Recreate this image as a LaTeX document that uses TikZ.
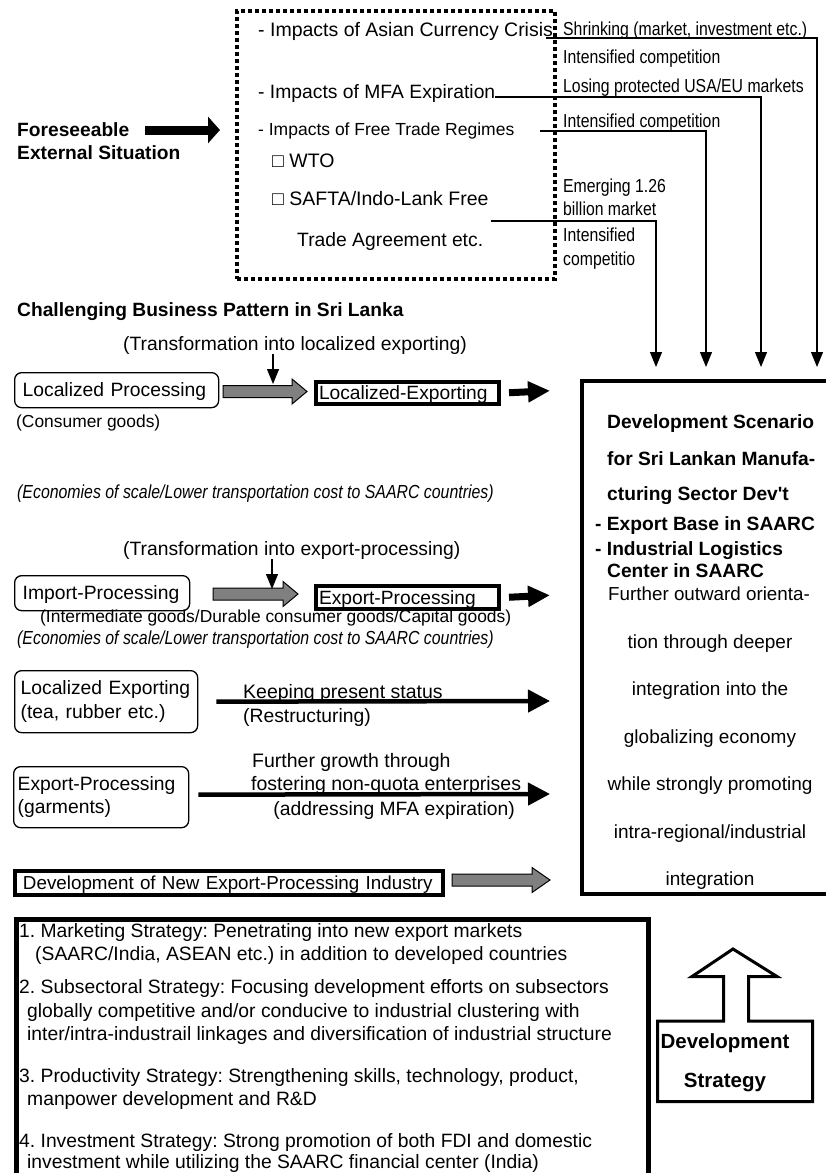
\documentclass[tikz,border=0pt]{standalone}
\usepackage{fontspec}
\setmainfont{Liberation Sans}[Ligatures=TeXOff]
\newfontfamily\narrowfont[FakeStretch=0.84,Ligatures=TeXOff]{Liberation Sans}
\usetikzlibrary{arrows.meta}
\frenchspacing

\tikzset{
  lbl/.style={inner sep=0pt, anchor=base west, font=\fontsize{19.3}{23}\selectfont},
  sml/.style={lbl, font=\fontsize{17.4}{21}\selectfont},
  nar/.style={lbl, font=\narrowfont\fontsize{18.8}{22}\selectfont},
  nit/.style={lbl, font=\narrowfont\itshape\fontsize{18.9}{22}\selectfont},
  bld/.style={lbl, font=\bfseries\fontsize{19.2}{23}\selectfont},
  ctr/.style={inner sep=0pt, anchor=base, font=\fontsize{19}{23}\selectfont},
  dotbox/.style={draw, line width=4pt, dash pattern=on 4pt off 3pt, anchor=north west, inner sep=0pt},
  rbox/.style={draw, rounded corners=7pt, line width=1.3pt, anchor=north west, align=left,
    inner ysep=0pt, inner xsep=8pt, font=\fontsize{19.3}{24}\selectfont},
  tbox/.style={draw, line width=4pt, anchor=north west, align=left, inner ysep=0pt,
    inner xsep=3pt, text height=13.5pt, text depth=0pt, font=\fontsize{19.2}{23}\selectfont},
  bigbox/.style={draw, anchor=north west, inner sep=0pt},
  conn/.style={line width=1.2pt, -{Triangle[length=15pt,width=12pt]}},
  fat/.style={line width=7pt, -{Triangle[length=22pt,width=20pt]}},
  lng/.style={line width=4.5pt, -{Triangle[length=22pt,width=22pt]}},
  grayarr/.style={draw, line width=1pt, fill=black!50}
}

% gray block arrow: start (x,y), shaft length, head length
\newcommand{\blockarrow}[3]{%
  \draw[grayarr] (#1) ++(0,-6) -- ++(#2,0) -- ++(0,-6.5) -- ++(#3,12.5)
    -- ++(-#3,12.5) -- ++(0,-6.5) -- ++(-#2,0) -- cycle;}

\begin{document}
\begin{tikzpicture}[x=1pt,y=-1pt]
\useasboundingbox (0,0) rectangle (826,1173);

% foreseeable external situation
\node[dotbox, minimum width=318pt, minimum height=268pt] (ext) at (235,9) {};
\node[lbl, font=\fontsize{19.5}{23}\selectfont] (asian) at (258,36) {- Impacts of Asian Currency Crisis};
\node[lbl] (mfa) at (258,98) {- Impacts of MFA Expiration};
\node[lbl, font=\fontsize{17.5}{21}\selectfont] (free) at (258,135) {- Impacts of Free Trade Regimes};
\node[lbl, font=\fontsize{19.5}{23}\selectfont] (wto) at (272,167) {□ WTO};
\node[lbl, font=\fontsize{19.5}{23}\selectfont] (saf) at (272,205) {□ SAFTA/Indo-Lank Free};
\node[lbl] (tra) at (297,246) {Trade Agreement etc.};

\node[bld] (fore) at (17,136) {Foreseeable};
\node[bld] (fore2) at (17,159) {External Situation};
\draw[line width=9pt, -{Triangle[length=12pt,width=26pt]}] (145,130) -- ([xshift=-15pt]ext.west |- 0,130);

% impacts
\node[nar] (r1) at (563,35) {Shrinking (market, investment etc.)};
\node[nar] (r2) at (563,63) {Intensified competition};
\node[nar] (r3) at (563,92) {Losing protected USA/EU markets};
\node[nar] (r4) at (563,127) {Intensified competition};
\node[nar] (r5) at (563,192) {Emerging 1.26};
\node[nar] (r6) at (563,215) {billion market};
\node[nar] (r7) at (563,241) {Intensified};
\node[nar] (r8) at (563,265) {competitio};

\coordinate (d1) at (656,367);
\coordinate (d2) at (706,367);
\coordinate (d3) at (761,367);
\coordinate (d4) at (817,367);
\draw[conn] ([shift={(-7,2)}]asian.base east) -| (d4);
\draw[conn] ([shift={(0,-1)}]mfa.base east) -| (d3);
\draw[conn] ([shift={(25,-4)}]free.base east) -| (d2);
\draw[conn] ([shift={(2,16)}]saf.base east) -| (d1);

% business pattern
\node[bld] (chal) at (17,316) {Challenging Business Pattern in Sri Lanka};

\node[lbl] (tr1) at (123,350) {(Transformation into localized exporting)};
\node[rbox, text width=188pt, minimum height=35pt, text height=13.5pt, text depth=0pt] (lp) at (14,372) {Localized Processing};
\node[sml] (cons) at (16,427) {(Consumer goods)};
\blockarrow{223,391.5}{69}{15}
\coordinate (g1) at (273,384);
\draw[conn] (g1 |- tr1.south) -- (g1);
\node[tbox, text width=177pt, minimum height=22.5pt] (lexp) at (314,379.5) {Localized-Exporting};
\coordinate (e1) at (550,390.75);
\draw[fat] ([xshift=8pt]lexp.east) -- (e1);

\node[nit] (eco1) at (17,498) {(Economies of scale/Lower transportation cost to SAARC countries)};

\node[lbl] (tr2) at (123,555) {(Transformation into export-processing)};
\node[rbox, text width=159pt, minimum height=35pt, text height=13.5pt, text depth=0pt] (ip) at (14,575) {Import-Processing};
\blockarrow{213,594}{70}{15}
\coordinate (g2) at (272,589);
\draw[conn] (g2 |- tr2.south) -- (g2);
\node[tbox, text width=177pt, minimum height=23.5pt] (ep) at (314,583.5) {Export-Processing};
\coordinate (e2) at (550,595.25);
\draw[fat] ([xshift=8pt]ep.east) -- (e2);
\node[sml] (inter) at (40,622) {(Intermediate goods/Durable consumer goods/Capital goods)};
\node[nit] (eco2) at (17,644) {(Economies of scale/Lower transportation cost to SAARC countries)};

\node[rbox, text width=171pt, inner xsep=6pt, minimum height=62pt] (le) at (14,670) {Localized Exporting\\(tea, rubber etc.)};
\node[lbl, font=\fontsize{19.5}{23}\selectfont] (keep) at (243,698) {Keeping present status};
\node[lbl] (restr) at (243,722) {(Restructuring)};
\coordinate (e3) at (550,701);
\draw[lng] ([xshift=18pt]le.east) -- (e3);

\node[rbox, text width=167pt, minimum height=61pt, inner xsep=4pt, font=\fontsize{19.3}{23}\selectfont] (gp) at (13,766) {Export-Processing\\(garments)};
\node[lbl, font=\fontsize{19.5}{23}\selectfont] (fur) at (252,767) {Further growth through};
\node[lbl, font=\fontsize{19.5}{23}\selectfont] (fos) at (251,790) {fostering non-quota enterprises};
\node[lbl, anchor=base east] (addr) at (515,815) {(addressing MFA expiration)};
\coordinate (e4) at (550,794);
\draw[lng] ([shift={(9,-2.5)}]gp.east) -- (e4);

\node[tbox, text width=412pt, minimum height=24pt, inner xsep=8pt, font=\fontsize{18.8}{23}\selectfont] (newx) at (13,869) {\mbox{Development of New Export-Processing Industry}};
\blockarrow{452,880}{80}{18}

% development scenario
\node[bigbox, line width=3.5pt, minimum width=248pt, minimum height=513pt] (scen) at (580,379) {};
\node[bld] (sc1) at (607,428) {Development Scenario};
\node[bld] (sc2) at (607,465) {for Sri Lankan Manufa-};
\node[bld] (sc3) at (607,500) {cturing Sector Dev't};
\node[bld] (sc4) at (595,530) {- Export Base in SAARC};
\node[bld] (sc5) at (595,555) {- Industrial Logistics};
\node[bld] (sc6) at (607,577) {Center in SAARC};
\node[lbl, font=\fontsize{18.8}{23}\selectfont] (sc7) at (608,600) {Further outward orienta-};
\node[ctr] (sc8) at (710,648) {tion through deeper};
\node[ctr] (sc9) at (710,695) {integration into the};
\node[ctr] (sc10) at (710,743) {globalizing economy};
\node[ctr] (sc11) at (710,790) {while strongly promoting};
\node[ctr] (sc12) at (710,838) {intra-regional/industrial};
\node[ctr] (sc13) at (710,885) {integration};

% development strategy
\node[bigbox, line width=4.5pt, minimum width=632pt, minimum height=270pt] (strat) at (14,917) {};
\node[lbl] (m1) at (19,937) {1. Marketing Strategy: Penetrating into new export markets};
\node[lbl] (m2) at (35,960) {(SAARC/India, ASEAN etc.) in addition to developed countries};
\node[lbl] (m3) at (19,993) {2. Subsectoral Strategy: Focusing development efforts on subsectors};
\node[lbl] (m4) at (27,1017) {globally competitive and/or conducive to industrial clustering with};
\node[lbl] (m5) at (27,1040) {inter/intra-industrail linkages and diversification of industrial structure};
\node[lbl] (m6) at (19,1082) {3. Productivity Strategy: Strengthening skills, technology, product,};
\node[lbl] (m7) at (27,1105) {manpower development and R\&D};
\node[lbl] (m8) at (19,1147) {4. Investment Strategy: Strong promotion of both FDI and domestic};
\node[lbl] (m9) at (27,1168) {investment while utilizing the SAARC financial center (India)};

\draw[line width=3pt, line join=miter] (692,976.5) -- (733,949) -- (777,976.5) -- (748.5,976.5)
  -- (748.5,1021) -- (812.5,1021) -- (812.5,1101.5) -- (657.5,1101.5) -- (657.5,1021)
  -- (723.5,1021) -- (723.5,976.5) -- cycle;
\node[inner sep=0pt, anchor=base, font=\bfseries\fontsize{20.5}{24}\selectfont] (ds1) at (725,1048) {Development};
\node[inner sep=0pt, anchor=base, font=\bfseries\fontsize{20.5}{24}\selectfont] (ds2) at (725,1087) {Strategy};

\end{tikzpicture}
\end{document}
